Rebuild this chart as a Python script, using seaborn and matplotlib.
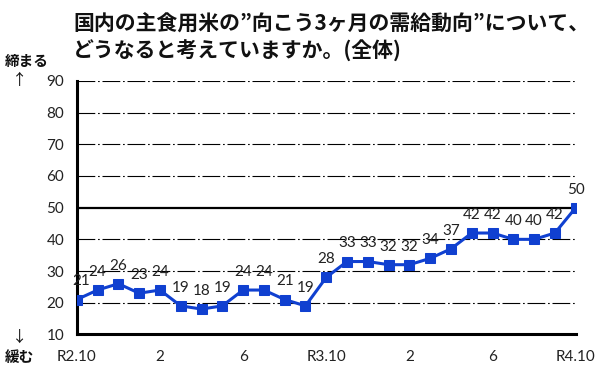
import matplotlib
matplotlib.use('Agg')
import matplotlib.pyplot as plt
import seaborn as sns
import pandas as pd

# データ（R2.10〜R4.10 の月次 DI）
months = list(range(25))
di_values = [21, 24, 26, 23, 24, 19, 18, 19, 24, 24, 21, 19, 28,
             33, 33, 32, 32, 34, 37, 42, 42, 40, 40, 42, 50]
tick_labels = ['R2.10', '', '', '', '2', '', '', '', '6', '', '', '', 'R3.10',
               '', '', '', '2', '', '', '', '6', '', '', '', 'R4.10']
y_ticks = [10, 20, 30, 40, 50, 60, 70, 80, 90]

title_text = '国内の主食用米の”向こう3ヶ月の需給動向”について、\nどうなると考えていますか。(全体)'

sns.set_theme(style='white')
plt.rcParams['font.family'] = ['Lato', 'Noto Sans CJK JP', 'DejaVu Sans']

df = pd.DataFrame({'month': months, 'di': di_values})

fig = plt.figure(figsize=(6, 3.8), dpi=100)
ax = fig.add_axes([0.128, 0.12, 0.8315, 0.667])

blue = '#1040d0'
sns.lineplot(data=df, x='month', y='di', ax=ax, color=blue, linewidth=2.2,
             marker='s', markersize=6.5, markeredgecolor=blue, zorder=5)

# 目盛り線（50 だけ実線）
for v in y_ticks[1:]:
    if v == 50:
        ax.axhline(v, color='black', linewidth=1.6, zorder=1)
    else:
        ax.axhline(v, color='black', linewidth=0.8,
                   linestyle=(0, (16, 2.5, 1.5, 2.5)), zorder=1)

# データラベル
for x, v in zip(months, di_values):
    dx = 3 if x == 0 else 0
    ax.annotate(str(v), (x, v), xytext=(dx, 8), textcoords='offset points',
                ha='center', va='bottom', fontsize=11, color='#222222',
                family=['Lato', 'DejaVu Sans'])

ax.set_xlim(0, 24)
ax.set_ylim(10, 90)
ax.set_xticks(months)
ax.set_xticklabels(tick_labels)
ax.set_yticks(y_ticks)
ax.set_xlabel('')
ax.set_ylabel('')
ax.tick_params(axis='both', direction='out', length=5, width=1.8,
               colors='black', labelsize=11, labelcolor='#222222', pad=6)
ax.tick_params(axis='y', pad=4)

for side in ['top', 'right']:
    ax.spines[side].set_visible(False)
for side in ['left', 'bottom']:
    ax.spines[side].set_color('black')
    ax.spines[side].set_linewidth(2.2)

jp = ['Noto Sans CJK JP', 'DejaVu Sans']
fig.text(0.122, 0.965, title_text, ha='left', va='top', fontsize=15,
         fontweight='bold', family=jp, linespacing=1.3, color='#111111')
fig.text(0.008, 0.84, '締まる', ha='left', va='center', fontsize=10.5,
         fontweight='bold', family=jp, color='#111111')
fig.text(0.02, 0.787, '↑', ha='left', va='center', fontsize=11,
         family=jp, color='#111111')
fig.text(0.02, 0.113, '↓', ha='left', va='center', fontsize=11,
         family=jp, color='#111111')
fig.text(0.008, 0.06, '緩む', ha='left', va='center', fontsize=10.5,
         fontweight='bold', family=jp, color='#111111')

fig.savefig('out.png', dpi=100)
